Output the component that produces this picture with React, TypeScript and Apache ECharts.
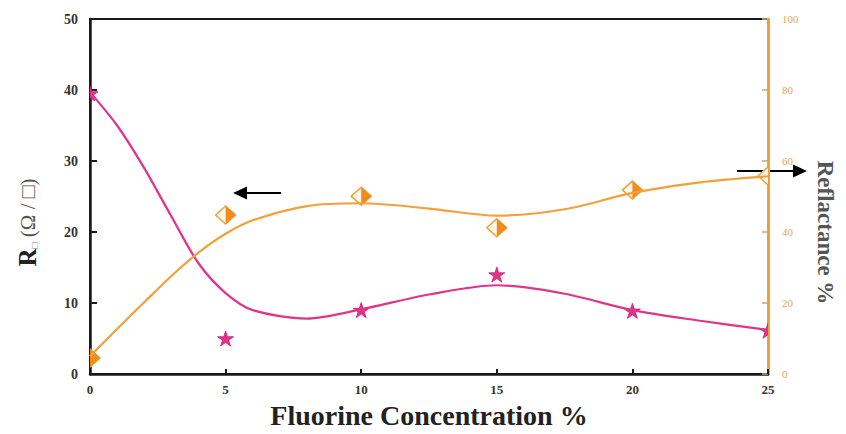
import React, { useEffect, useRef } from "react";
import * as echarts from "echarts";

// Measured data points (markers)
const concentration = [0, 5, 10, 15, 20, 25];
const sheetResistance = [39.5, 5.0, 9.0, 14.0, 8.9, 6.1];
const reflectance = [4.5, 44.8, 50.1, 41.2, 51.8, 55.8];

// Fitted curves
const fitX = [0, 1, 2, 3, 4, 5, 6, 8, 10, 12.5, 15, 17.5, 20, 22.5, 25];
const resistanceFit = [39.7, 35.0, 29.0, 22.2, 15.6, 11.4, 9.0, 7.8, 9.1, 11.2, 12.5, 11.3, 9.0, 7.5, 6.2];
const reflectanceFit = [5.0, 12.7, 20.2, 27.6, 34.2, 39.5, 43.3, 47.3, 48.1, 46.6, 44.6, 46.4, 51.0, 54.0, 55.7];

// Axis ranges
const xRange = { min: 0, max: 25, interval: 5 };
const leftRange = { min: 0, max: 50, interval: 10 };
const rightRange = { min: 0, max: 100, interval: 20 };

const PINK = "#e2338a";
const ORANGE = "#f2a03a";
const ORANGE_FILL = "#f08c1c";
const SERIF = "'Liberation Serif', 'DejaVu Serif', serif";

const STAR =
  "M50,0 L61.2,34.5 L97.6,34.5 L68.2,55.9 L79.4,90.5 L50,69.1 L20.6,90.5 L31.8,55.9 L2.4,34.5 L38.8,34.5 Z";

export default function App() {
  const ref = useRef<HTMLDivElement>(null);

  useEffect(() => {
    document.body.style.margin = "0";
    const chart = echarts.init(ref.current!, null, { renderer: "svg" });

    const starData = concentration.map((x, i) => [x, sheetResistance[i]]);
    const diamondData = concentration.map((x, i) => [x, reflectance[i]]);

    const option: any = {
      animation: false,
      backgroundColor: "#ffffff",
      grid: {
        left: 90,
        right: 78,
        top: 19,
        bottom: 56,
        show: true,
        borderColor: "#1a1a1a",
        borderWidth: 2,
        backgroundColor: "transparent",
      },
      xAxis: {
        type: "value",
        ...xRange,
        name: "Fluorine Concentration %",
        nameLocation: "middle",
        nameGap: 27,
        nameTextStyle: {
          fontFamily: SERIF,
          fontWeight: "bold",
          fontSize: 28,
          color: "#222",
        },
        axisLine: { lineStyle: { color: "#1a1a1a", width: 2.5 } },
        axisTick: { inside: true, length: 5, lineStyle: { color: "#1a1a1a", width: 2 } },
        axisLabel: {
          fontFamily: SERIF,
          fontWeight: "bold",
          fontSize: 13,
          color: "#333",
          margin: 9,
        },
        splitLine: { show: false },
      },
      yAxis: [
        {
          type: "value",
          ...leftRange,
          position: "left",
          name: "{r|R}{s|□}{p| (Ω / □)}",
          nameLocation: "middle",
          nameGap: 50,
          nameTextStyle: {
            padding: [0, 52, 0, 0],
            rich: {
              r: { fontFamily: SERIF, fontWeight: "bold", fontSize: 25, color: "#222" },
              s: { fontSize: 10, color: "#888", padding: [14, 0, 0, 0] },
              p: { fontFamily: SERIF, fontSize: 21, color: "#555" },
            },
          },
          axisLine: { show: true, lineStyle: { color: "#1a1a1a", width: 2.5 } },
          axisTick: { inside: true, length: 7, lineStyle: { color: "#1a1a1a", width: 2 } },
          axisLabel: {
            fontFamily: SERIF,
            fontWeight: "bold",
            fontSize: 14,
            color: "#333",
            margin: 12,
          },
          splitLine: { show: false },
        },
        {
          type: "value",
          ...rightRange,
          position: "right",
          name: "Reflactance %",
          nameLocation: "middle",
          nameRotate: -90,
          nameGap: 46,
          nameTextStyle: {
            fontFamily: SERIF,
            fontWeight: "bold",
            fontSize: 23,
            color: "#555",
            padding: [0, 0, 0, 72],
          },
          axisLine: { show: true, lineStyle: { color: ORANGE, width: 3 } },
          axisTick: { inside: true, length: 6, lineStyle: { color: "#c9a779", width: 1.5 } },
          axisLabel: {
            fontFamily: SERIF,
            fontSize: 11,
            color: "#eaa652",
            margin: 14,
          },
          splitLine: { show: false },
        },
      ],
      series: [
        {
          type: "line",
          name: "R fit",
          yAxisIndex: 0,
          data: fitX.map((x, i) => [x, resistanceFit[i]]),
          smooth: 0.3,
          showSymbol: false,
          lineStyle: { color: PINK, width: 2.2 },
        },
        {
          type: "line",
          name: "Reflectance fit",
          yAxisIndex: 1,
          data: fitX.map((x, i) => [x, reflectanceFit[i]]),
          smooth: 0.3,
          showSymbol: false,
          lineStyle: { color: ORANGE, width: 2.2 },
        },
        {
          type: "custom",
          name: "R",
          yAxisIndex: 0,
          clip: true,
          data: starData,
          encode: { x: 0, y: 1 },
          renderItem: (params: any, api: any) => {
            const p = api.coord([api.value(0), api.value(1)]);
            const w = 16;
            const h = 15;
            return {
              type: "path",
              shape: {
                pathData: STAR,
                x: p[0] - w / 2,
                y: p[1] - h / 2,
                width: w,
                height: h,
                layout: "cover",
              },
              style: { fill: PINK, stroke: "#c81f72", lineWidth: 0.8 },
            };
          },
        },
        {
          type: "custom",
          name: "Reflectance",
          yAxisIndex: 1,
          clip: true,
          data: diamondData,
          encode: { x: 0, y: 1 },
          renderItem: (params: any, api: any) => {
            const p = api.coord([api.value(0), api.value(1)]);
            const cx = p[0];
            const cy = p[1];
            const w = 20;
            const h = 18;
            return {
              type: "group",
              children: [
                {
                  type: "polygon",
                  shape: {
                    points: [
                      [cx, cy - h / 2],
                      [cx + w / 2, cy],
                      [cx, cy + h / 2],
                      [cx - w / 2, cy],
                    ],
                  },
                  style: { fill: "#fff7ec", stroke: ORANGE, lineWidth: 1.5 },
                },
                {
                  type: "polygon",
                  shape: {
                    points: [
                      [cx, cy - h / 2],
                      [cx + w / 2, cy],
                      [cx, cy + h / 2],
                    ],
                  },
                  style: { fill: ORANGE_FILL },
                },
              ],
            };
          },
        },
      ],
      graphic: [
        {
          type: "line",
          shape: { x1: 281, y1: 193, x2: 245, y2: 193 },
          style: { stroke: "#000", lineWidth: 2 },
        },
        {
          type: "polygon",
          shape: { points: [[233, 193], [247, 186.5], [247, 199.5]] },
          style: { fill: "#000" },
        },
        {
          type: "line",
          shape: { x1: 737, y1: 171, x2: 795, y2: 171 },
          style: { stroke: "#000", lineWidth: 2 },
        },
        {
          type: "polygon",
          shape: { points: [[807, 171], [793, 164.5], [793, 177.5]] },
          style: { fill: "#000" },
        },
      ],
    };

    chart.setOption(option);
    return () => chart.dispose();
  }, []);

  return (
    <div
      ref={ref}
      style={{ position: "fixed", left: 0, top: 0, width: 846, height: 434 }}
    />
  );
}
